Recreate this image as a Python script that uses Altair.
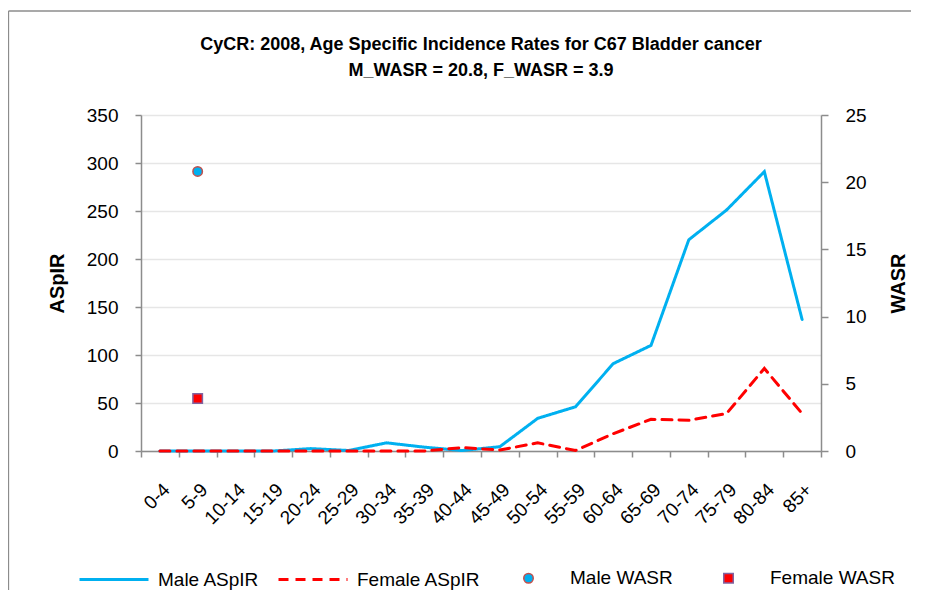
import altair as alt
import pandas as pd

# ---------------- data ----------------
ages = ["0-4", "5-9", "10-14", "15-19", "20-24", "25-29", "30-34", "35-39", "40-44",
        "45-49", "50-54", "55-59", "60-64", "65-69", "70-74", "75-79", "80-84", "85+"]
male_aspir = [0, 0, 0, 0, 2.5, 0.5, 8.5, 4, 0.5, 4.5, 34, 46, 91, 110, 220, 251, 291, 137]
female_aspir = [0, 0, 0, 0, 0, 0, 0, 0, 3.5, 1, 8.5, 0.5, 18, 33, 32, 39, 86, 39]
line_series = ["Male ASpIR", "Female ASpIR"]
wasr_series = ["Male WASR", "Female WASR"]
wasr_values = [20.8, 3.9]
wasr_age = "5-9"
left_ticks = [0, 50, 100, 150, 200, 250, 300, 350]
right_ticks = [0, 5, 10, 15, 20, 25]
title_lines = ["CyCR: 2008, Age Specific Incidence Rates for C67 Bladder cancer",
               "M_WASR = 20.8, F_WASR = 3.9"]

# ---------------- style ----------------
FONT = "Liberation Sans, Arial, sans-serif"
BLUE = "#00B0F0"
RED = "#FF0000"
AXIS_GRAY = "#8C8C8C"

line_df = pd.DataFrame({
    "age": ages + ages,
    "series": [line_series[0]] * len(ages) + [line_series[1]] * len(ages),
    "value": male_aspir + female_aspir,
})
pts_df = pd.DataFrame({
    "age": [wasr_age] * len(wasr_series),
    "series": wasr_series,
    "value": wasr_values,
})

x_enc = alt.X(
    "age:N",
    bandPosition=0.5,
    scale=alt.Scale(type="band", domain=ages, paddingInner=0, paddingOuter=0),
    axis=alt.Axis(title=None, tickBand="extent", labelAngle=315, labelAlign="right",
                  labelBaseline="top", labelPadding=23, tickSize=6, grid=False,
                  labelFontSize=19),
)

leg_lines = alt.Legend(
    title=None, orient="none", legendX=-63, legendY=428.5, direction="horizontal",
    symbolType="stroke", symbolSize=4761, symbolStrokeWidth=3,
    labelFont=FONT, labelFontSize=19, labelColor="black", labelOffset=8,
    columnPadding=12, padding=0,
)
leg_pts = alt.Legend(
    title=None, orient="none", legendX=378, legendY=453.5, direction="horizontal",
    symbolSize=90, symbolStrokeWidth=1.5,
    labelFont=FONT, labelFontSize=19, labelColor="black", labelOffset=32,
    columnPadding=46, padding=0,
)

# outer chart-area frame (only left and top edges fall inside the picture)
frame_df = pd.DataFrame({"b": [0]})
frame_top = alt.Chart(frame_df).mark_rule(stroke=AXIS_GRAY, strokeWidth=1.3).encode(
    x=alt.value(-132.5), x2=alt.value(770), y=alt.value(-104)
)
frame_left = alt.Chart(frame_df).mark_rule(stroke=AXIS_GRAY, strokeWidth=1.3).encode(
    x=alt.value(-132.5), y=alt.value(-104), y2=alt.value(475)
)

lines = alt.Chart(line_df).mark_line(strokeWidth=3, strokeCap="round").encode(
    x=x_enc,
    y=alt.Y("value:Q", scale=alt.Scale(domain=[0, 350], nice=False),
            axis=alt.Axis(values=left_ticks, title="ASpIR", grid=True, gridColor="#E6E6E6",
                          gridWidth=1.5, tickSize=6, labelPadding=17, titlePadding=19)),
    color=alt.Color("series:N", scale=alt.Scale(domain=line_series, range=[BLUE, RED]),
                    legend=leg_lines),
    strokeDash=alt.StrokeDash("series:N",
                              scale=alt.Scale(domain=line_series, range=[[1, 0], [10, 7]]),
                              legend=leg_lines),
)

points = alt.Chart(pts_df).mark_point(opacity=1, strokeWidth=1.5, size=90).encode(
    x=x_enc,
    y=alt.Y("value:Q", scale=alt.Scale(domain=[0, 25], nice=False),
            axis=alt.Axis(orient="right", values=right_ticks, title="WASR", grid=False,
                          tickSize=7, labelPadding=17, titlePadding=42, titleAngle=270)),
    fill=alt.Fill("series:N", scale=alt.Scale(domain=wasr_series, range=[BLUE, RED]),
                  legend=leg_pts),
    stroke=alt.Stroke("series:N", scale=alt.Scale(domain=wasr_series,
                                                  range=["#C0504D", "#8064A2"]),
                      legend=leg_pts),
    shape=alt.Shape("series:N", scale=alt.Scale(domain=wasr_series, range=["circle", "square"]),
                    legend=leg_pts),
)

chart = alt.layer(frame_top, frame_left, lines, points).resolve_scale(
    y="independent", color="independent", strokeDash="independent",
    fill="independent", stroke="independent", shape="independent"
).properties(
    width=680, height=336,
    autosize=alt.AutoSizeParams(type="none"),
    padding={"left": 133, "top": 107, "right": 106, "bottom": 140},
    title=alt.TitleParams(text=title_lines, font=FONT, fontSize=18, fontWeight="bold",
                          color="black", anchor="middle", frame="group", offset=-70,
                          lineHeight=26),
).configure_view(
    stroke="transparent"
).configure_axis(
    domainColor=AXIS_GRAY, domainWidth=1.5, tickColor=AXIS_GRAY, tickWidth=1.5,
    labelFont=FONT, labelFontSize=19, labelColor="black",
    titleFont=FONT, titleFontSize=20, titleFontWeight="bold", titleColor="black",
)

chart.save("out.html", embed_options={"renderer": "svg", "actions": False})
